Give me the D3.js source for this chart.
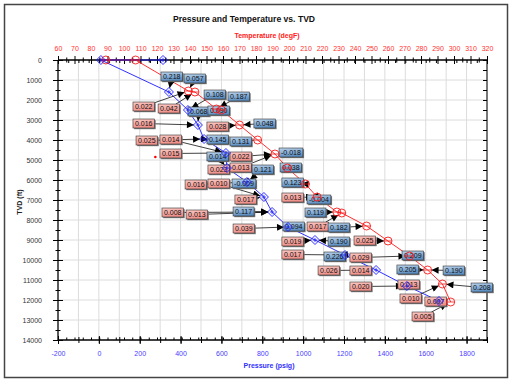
<!DOCTYPE html>
<html><head><meta charset="utf-8">
<script src="https://cdn.jsdelivr.net/npm/d3@7"></script>
<style>body{margin:0;background:#fff}svg{display:block;font-family:"Liberation Sans",Arial,sans-serif}</style>
</head><body><svg id="c" width="512" height="382"></svg>
<script>
// ---- data ----
const pressureTicks = d3.range(-200, 1801, 200);
const temperatureTicks = d3.range(60, 321, 10);
const depthTicks = d3.range(0, 14001, 1000);

const presP = [314, 10, 343, 436, 485, 515, 622, 627, 725, 808, 848, 926, 1058, 1205, 1357, 1508, 1665];
const presD = [0, 0, 1600, 2500, 3250, 3950, 4650, 5400, 6100, 6850, 7600, 8350, 9000, 9750, 10500, 11300, 12050];

const tempT = [89, 107, 139, 143, 156, 159, 170, 181, 191.5, 199, 210, 217, 229, 232, 247, 260, 273, 284, 293, 298];
const tempD = [0, 0, 1550, 1600, 2450, 2500, 3250, 4000, 4700, 5400, 6200, 6850, 7600, 7650, 8300, 9050, 9800, 10500, 11200, 12100];

const spotT = [119];
const spotD = [4850];

const labelText = ["0.218","0.057","0.108","0.187","0.022","0.042","0.068","0.090","0.016","0.028",
  "0.025","0.014","0.145","0.131","0.015","0.014","0.022","0.023","0.013","0.121",
  "0.038","-0.018","0.048","0.016","0.010","-0.009","0.123","0.017","0.013","-0.004",
  "0.008","0.013","0.117","0.119","0.039","0.094","0.017","0.182","0.019","0.190",
  "0.025","0.017","0.226","0.029","0.209","0.026","0.014","0.205","0.190","0.013",
  "0.020","0.208","0.010","0.007","0.005"];
const labelKind = ["b","b","b","b","p","p","b","b","p","p",
  "p","p","b","b","p","b","p","p","p","b",
  "b","b","b","p","p","b","b","p","p","b",
  "p","p","b","b","p","b","p","b","p","b",
  "p","p","b","p","b","p","p","b","b","p",
  "p","b","p","p","p"];
const labelP = [304,417,515,632,167,290,436,534,167,529,
  182,299,529,642,299,529,642,534,642,750,
  887,882,759,422,534,652,896,666,896,1019,
  309,427,657,1009,657,901,1019,1122,896,1122,
  1249,896,1102,1229,1484,1073,1229,1459,1685,1464,
  1229,1822,1474,1596,1533];
const labelD = [600,700,1500,1600,2100,2200,2350,2300,2950,3100,
  3800,3750,3750,3850,4450,4600,4600,5250,5150,5250,
  5150,4400,2950,6000,5950,5950,5900,6750,6650,6750,
  7400,7500,7350,7400,8200,8100,8100,8150,8850,8850,
  8800,9500,9600,9650,9550,10300,10300,10250,10300,11000,
  11100,11150,11700,11850,12600];
const labelTarget = ["b2","r2","b3","r4","r2","r3","b4","r5","b4","r6",
  "b5","b6","b5","r7","b6","b7","r8","b7","r8","b8",
  "r9","r8","r6","b8","b9","b8","r10","b9","r11","r11",
  "b10","b10","b10","r12","b11","b11","r13","r14","b12","b12",
  "r15","b13","b13","r16","r16","b14","b14","r17","r17","b15",
  "b15","r18","r18","b16","r19"];

// ---- layout ----
const svg = d3.select('#c');
const L = 58, R = 487, T = 60, B = 340;
const x = d3.scaleLinear().domain([-200, 1900]).range([L, R]);
const xt = d3.scaleLinear().domain([60, 320]).range([L, R]);
const y = d3.scaleLinear().domain([0, 14000]).range([T, B]);
const plain = d => String(d);

const defs = svg.append('defs');
const gb = defs.append('linearGradient').attr('id','gb').attr('x1',0).attr('y1',0).attr('x2',0.3).attr('y2',1);
gb.append('stop').attr('offset','0%').attr('stop-color','#bcd5ee');
gb.append('stop').attr('offset','100%').attr('stop-color','#5b8dc0');
const gp = defs.append('linearGradient').attr('id','gp').attr('x1',0).attr('y1',0).attr('x2',0.3).attr('y2',1);
gp.append('stop').attr('offset','0%').attr('stop-color','#fbc9c4');
gp.append('stop').attr('offset','100%').attr('stop-color','#ef8f88');
defs.append('marker').attr('id','arr').attr('viewBox','0 0 10 10').attr('refX',10).attr('refY',5)
  .attr('markerWidth',8).attr('markerHeight',7).attr('markerUnits','userSpaceOnUse').attr('orient','auto')
  .append('path').attr('d','M0,0L10,5L0,10Z').attr('fill','#000');

// frame
svg.append('rect').attr('x',4.5).attr('y',4.5).attr('width',503).attr('height',373)
  .attr('fill','#fff').attr('stroke','#444').attr('stroke-width',1.5);

// grid
const grid = svg.append('g').attr('stroke','#dcdcdc').attr('stroke-width',1);
grid.selectAll('.gv').data(d3.range(-100, 1901, 100)).join('line')
  .attr('x1', d => x(d)).attr('x2', d => x(d)).attr('y1', T).attr('y2', B);
grid.selectAll('.gh').data(depthTicks.slice(1, -1)).join('line')
  .attr('x1', L).attr('x2', R).attr('y1', d => y(d)).attr('y2', d => y(d));

// axes
function crossTicks(g, a, b, horiz) {
  g.selectAll('.tick line').attr(horiz ? 'y1' : 'x1', a).attr(horiz ? 'y2' : 'x2', b).attr('stroke','#000');
  g.select('.domain').remove();
}
const axLeft = svg.append('g').attr('transform',`translate(${L},0)`)
  .call(d3.axisLeft(y).tickValues(depthTicks).tickSizeInner(5).tickSizeOuter(0).tickPadding(11).tickFormat(plain));
crossTicks(axLeft, -5, 5, false);
axLeft.selectAll('text').attr('font-size',7).attr('fill','#333').attr('font-family','Liberation Sans, Arial');
const axLeftMin = svg.append('g').attr('transform',`translate(${L},0)`)
  .call(d3.axisLeft(y).tickValues(d3.range(500, 14000, 1000)).tickSize(3).tickFormat(''));
crossTicks(axLeftMin, -2.5, 2.5, false);

const axRight = svg.append('g').attr('transform',`translate(${R},0)`)
  .call(d3.axisRight(y).tickValues(d3.range(0, 14001, 500)).tickSize(3).tickFormat(''));
crossTicks(axRight, -4, 0, false);

const axTop = svg.append('g').attr('transform',`translate(0,${T})`)
  .call(d3.axisTop(xt).tickValues(temperatureTicks).tickSizeInner(4).tickSizeOuter(0).tickPadding(5).tickFormat(plain));
crossTicks(axTop, -4, 4, true);
axTop.selectAll('text').attr('font-size',7).attr('fill','#ff3030').attr('font-family','Liberation Sans, Arial');
const axTopMin = svg.append('g').attr('transform',`translate(0,${T})`)
  .call(d3.axisTop(xt).tickValues(d3.range(65, 320, 10)).tickSize(2).tickFormat(''));
crossTicks(axTopMin, -2.5, 2.5, true);
const axTopP = svg.append('g').attr('transform',`translate(0,${T})`)
  .call(d3.axisTop(x).tickValues(d3.range(-200, 1901, 50)).tickSize(2).tickFormat(''));
crossTicks(axTopP, 0, 3, true);

const axBot = svg.append('g').attr('transform',`translate(0,${B})`)
  .call(d3.axisBottom(x).tickValues(pressureTicks).tickSizeInner(4).tickSizeOuter(0).tickPadding(7).tickFormat(plain));
crossTicks(axBot, -4, 4, true);
axBot.selectAll('text').attr('font-size',7).attr('fill','#4a3cff').attr('font-family','Liberation Sans, Arial');
const axBotMin = svg.append('g').attr('transform',`translate(0,${B})`)
  .call(d3.axisBottom(x).tickValues(d3.range(-100, 1901, 100)).tickSize(3).tickFormat(''));
crossTicks(axBotMin, -3, 3, true);
const axBotT = svg.append('g').attr('transform',`translate(0,${B})`)
  .call(d3.axisBottom(xt).tickValues(d3.range(65, 320, 5)).tickSize(2).tickFormat(''));
crossTicks(axBotT, -2.5, 0, true);

// axis lines
const axLines = svg.append('g').attr('stroke','#000').attr('stroke-width',1.3);
axLines.append('line').attr('x1',L).attr('x2',R).attr('y1',T).attr('y2',T);
axLines.append('line').attr('x1',L).attr('x2',R).attr('y1',B).attr('y2',B);
axLines.append('line').attr('x1',L).attr('x2',L).attr('y1',T).attr('y2',B);
axLines.append('line').attr('x1',R).attr('x2',R).attr('y1',T).attr('y2',B).attr('stroke-width',1);

// titles
svg.append('text').attr('x',244).attr('y',22).attr('text-anchor','middle').attr('font-size',8.6)
  .attr('font-weight','bold').attr('fill','#111').text('Pressure and Temperature vs. TVD');
svg.append('text').attr('x',267).attr('y',37.5).attr('text-anchor','middle').attr('font-size',7)
  .attr('font-weight','bold').attr('fill','#ff2020').text('Temperature (degF)');
svg.append('text').attr('x',269).attr('y',368).attr('text-anchor','middle').attr('font-size',7)
  .attr('font-weight','bold').attr('fill','#3030ff').text('Pressure (psig)');
svg.append('text').attr('transform','translate(22,202) rotate(-90)').attr('text-anchor','middle')
  .attr('font-size',7).attr('font-weight','bold').attr('fill','#222').text('TVD (ft)');

// series lines
const pIdx = d3.range(presP.length), tIdx = d3.range(tempT.length);
svg.append('path').attr('fill','none').attr('stroke','#ff1a1a').attr('stroke-width',0.9)
  .attr('d', d3.line().x(i => xt(tempT[i])).y(i => y(tempD[i]))(tIdx));
svg.append('path').attr('fill','none').attr('stroke','#1a1aff').attr('stroke-width',0.9)
  .attr('d', d3.line().x(i => x(presP[i])).y(i => y(presD[i]))(pIdx));

// labels
function targetXY(t) {
  const i = +t.slice(1);
  return t[0] === 'b' ? [x(presP[i]), y(presD[i])] : [xt(tempT[i]), y(tempD[i])];
}
const measureG = svg.append('g');
const boxes = labelText.map((t, i) => {
  const tmp = measureG.append('text').attr('font-size',7).text(t);
  const w = tmp.node().getComputedTextLength() + 4;
  tmp.remove();
  return {t, i, x0: x(labelP[i]), y0: y(labelD[i]), w, h: 9, kind: labelKind[i], target: targetXY(labelTarget[i])};
});
const leaders = svg.append('g');
const boxG = svg.append('g');
boxes.forEach(b => {
  const cx = b.x0 + b.w / 2, cy = b.y0 + b.h / 2;
  const dx = b.target[0] - cx, dy = b.target[1] - cy;
  const s = Math.min(Math.abs(dx) > 0 ? (b.w / 2) / Math.abs(dx) : 1e9, Math.abs(dy) > 0 ? (b.h / 2) / Math.abs(dy) : 1e9);
  const len = Math.hypot(dx, dy);
  const sx = cx + dx * s, sy = cy + dy * s;
  const ex = b.target[0] - dx / len * 4, ey = b.target[1] - dy / len * 4;
  leaders.append('line').attr('x1', sx).attr('y1', sy).attr('x2', ex).attr('y2', ey)
    .attr('stroke','#111').attr('stroke-width',0.8).attr('marker-end','url(#arr)');
});
boxes.forEach(b => {
  boxG.append('rect').attr('x', b.x0 + 1.2).attr('y', b.y0 + 1.2).attr('width', b.w).attr('height', b.h).attr('fill','#777');
  boxG.append('rect').attr('x', b.x0).attr('y', b.y0).attr('width', b.w).attr('height', b.h)
    .attr('fill', b.kind === 'b' ? 'url(#gb)' : 'url(#gp)').attr('stroke','#333').attr('stroke-width',0.6);
  boxG.append('text').attr('x', b.x0 + 2).attr('y', b.y0 + 7).attr('font-size',7).attr('fill','#111').text(b.t);
});

// markers
const mk = svg.append('g');
mk.selectAll('.rc').data(tIdx).join('g')
  .attr('transform', i => `translate(${xt(tempT[i])},${y(tempD[i])})`)
  .each(function() {
    const g = d3.select(this);
    g.append('circle').attr('r',4).attr('fill','none').attr('stroke','#ff1a1a').attr('stroke-width',0.9);
    g.append('line').attr('x1',-4).attr('x2',4).attr('stroke','#ff1a1a').attr('stroke-width',0.8);
  });
mk.selectAll('.bd').data(pIdx).join('g')
  .attr('transform', i => `translate(${x(presP[i])},${y(presD[i])})`)
  .each(function() {
    const g = d3.select(this);
    g.append('path').attr('d','M0,-4.5L4.5,0L0,4.5L-4.5,0Z').attr('fill','none').attr('stroke','#1a1aff').attr('stroke-width',0.9);
    g.append('path').attr('d','M-2.2,0H2.2M0,-2.2V2.2').attr('stroke','#1a1aff').attr('stroke-width',0.8);
  });
mk.selectAll('.sp').data(d3.range(spotT.length)).join('circle')
  .attr('cx', i => xt(spotT[i])).attr('cy', i => y(spotD[i])).attr('r',1.3).attr('fill','#ff0000');
</script></body></html>
